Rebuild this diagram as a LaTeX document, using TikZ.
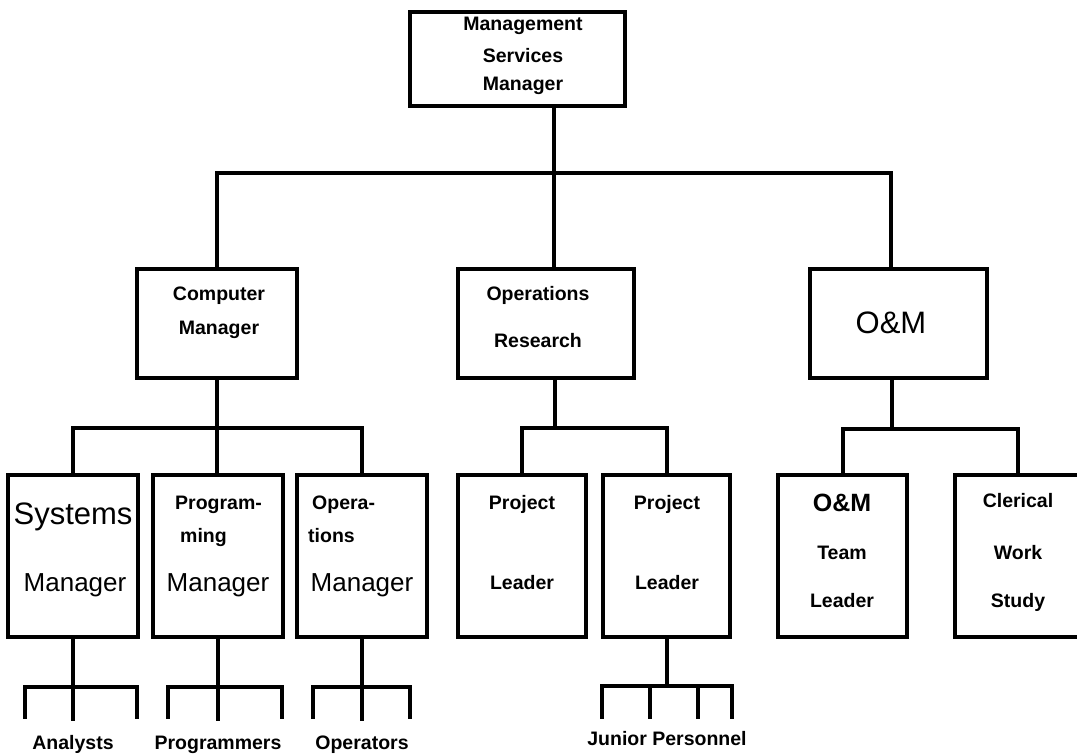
\documentclass[tikz,border=0pt]{standalone}
\usepackage{fontspec}
\setmainfont{Liberation Sans}
\begin{document}
\begin{tikzpicture}[line cap=rect,line join=miter,x=1pt,y=-1pt,
  box/.style={draw,line width=4.5pt,inner sep=0pt,minimum width=#1},
  lbl/.style={font=\fontsize{19.5}{22}\selectfont\bfseries,inner sep=0pt,anchor=base},
  big/.style={font=\fontsize{26}{30}\selectfont,inner sep=0pt,anchor=base},
  conn/.style={line width=4pt}]
\useasboundingbox (0,0) rectangle (1077,753);
% boxes
\node[box=215pt,minimum height=94pt] (msm) at (517.5,59) {};
\node[box=160pt,minimum height=109pt] (cm) at (217,323.5) {};
\node[box=176pt,minimum height=109pt] (or) at (546,323.5) {};
\node[box=177pt,minimum height=109pt] (om) at (898.5,323.5) {};
\node[box=130pt,minimum height=162pt] (sys) at (73,556) {};
\node[box=130pt,minimum height=162pt] (prg) at (218,556) {};
\node[box=130pt,minimum height=162pt] (ops) at (362,556) {};
\node[box=128pt,minimum height=162pt] (pl1) at (522,556) {};
\node[box=127pt,minimum height=162pt] (pl2) at (666.5,556) {};
\node[box=129pt,minimum height=162pt] (omt) at (842.5,556) {};
\node[box=126pt,minimum height=162pt] (cws) at (1018,556) {};
% texts
\node[lbl] (msm-1) at (523,30) {Management};
\node[lbl] (msm-2) at (523,62) {Services};
\node[lbl] (msm-3) at (523,90) {Manager};
\node[lbl] (cm-1) at (219,300) {Computer};
\node[lbl] (cm-2) at (219,334) {Manager};
\node[lbl] (or-1) at (538,300) {Operations};
\node[lbl] (or-2) at (538,347) {Research};
\node[big,font=\fontsize{31}{36}\selectfont] (om-1) at (891,333) {O\&M};
\node[big,font=\fontsize{31}{36}\selectfont] (sys-1) at (73,524) {Systems};
\node[big] (sys-2) at (75,591) {Manager};
\node[lbl,anchor=base west] (prg-1) at (175,509) {Program-};
\node[lbl,anchor=base west] (prg-2) at (180,542) {ming};
\node[big] (prg-3) at (218,591) {Manager};
\node[lbl,anchor=base west] (ops-1) at (312,509) {Opera-};
\node[lbl,anchor=base west] (ops-2) at (308,542) {tions};
\node[big] (ops-3) at (362,591) {Manager};
\node[lbl] (pl1-1) at (522,509) {Project};
\node[lbl] (pl1-2) at (522,589) {Leader};
\node[lbl] (pl2-1) at (667,509) {Project};
\node[lbl] (pl2-2) at (667,589) {Leader};
\node[lbl,font=\fontsize{25}{28}\selectfont\bfseries] (omt-1) at (842,511) {O\&M};
\node[lbl] (omt-2) at (842,559) {Team};
\node[lbl] (omt-3) at (842,607) {Leader};
\node[lbl] (cws-1) at (1018,507) {Clerical};
\node[lbl] (cws-2) at (1018,559) {Work};
\node[lbl] (cws-3) at (1018,607) {Study};
% connectors
\coordinate (b1) at (554,173);
\draw[conn] (msm.south -| b1) -- (or.north -| b1);
\draw[conn] (cm.north) |- (b1) -| ([xshift=-7.5pt]om.north);
\coordinate (b2) at (217,428);
\draw[conn] (cm.south) -- (b2);
\draw[conn] (sys.north) |- (b2) -| (ops.north);
\draw[conn] (b2) -- (prg.north -| b2);
\coordinate (b3) at (555,428);
\draw[conn] (or.south -| b3) -- (b3);
\draw[conn] (pl1.north) |- (b3) -| ([xshift=0.5pt]pl2.north);
\coordinate (b4) at (892,429);
\draw[conn] (om.south -| b4) -- (b4);
\draw[conn] (omt.north) |- (b4) -| (cws.north);
% staff below
\foreach \n/\l/\r/\t in {sys/25/137/Analysts,prg/168/282/Programmers,ops/313/410/Operators}
{
\draw[conn] (\n.south) -- ++(0,48) coordinate (\n-j);
\draw[conn] (\l,717) |- (\n-j) -| (\r,717);
\draw[conn] (\n-j) -- ++(0,32);
\node[lbl] (\n-lab) at (\n-j |- 0,749) {\t};
}
\draw[conn] ([xshift=0.5pt]pl2.south) -- ++(0,47) coordinate (pl2-j);
\draw[conn] (602,717) |- (pl2-j) -| (732,717);
\foreach \x in {650,698}
\draw[conn] (pl2-j -| \x,0) -- (\x,717);
\node[lbl] (pl2-lab) at (667,745) {Junior Personnel};
\end{tikzpicture}
\end{document}
